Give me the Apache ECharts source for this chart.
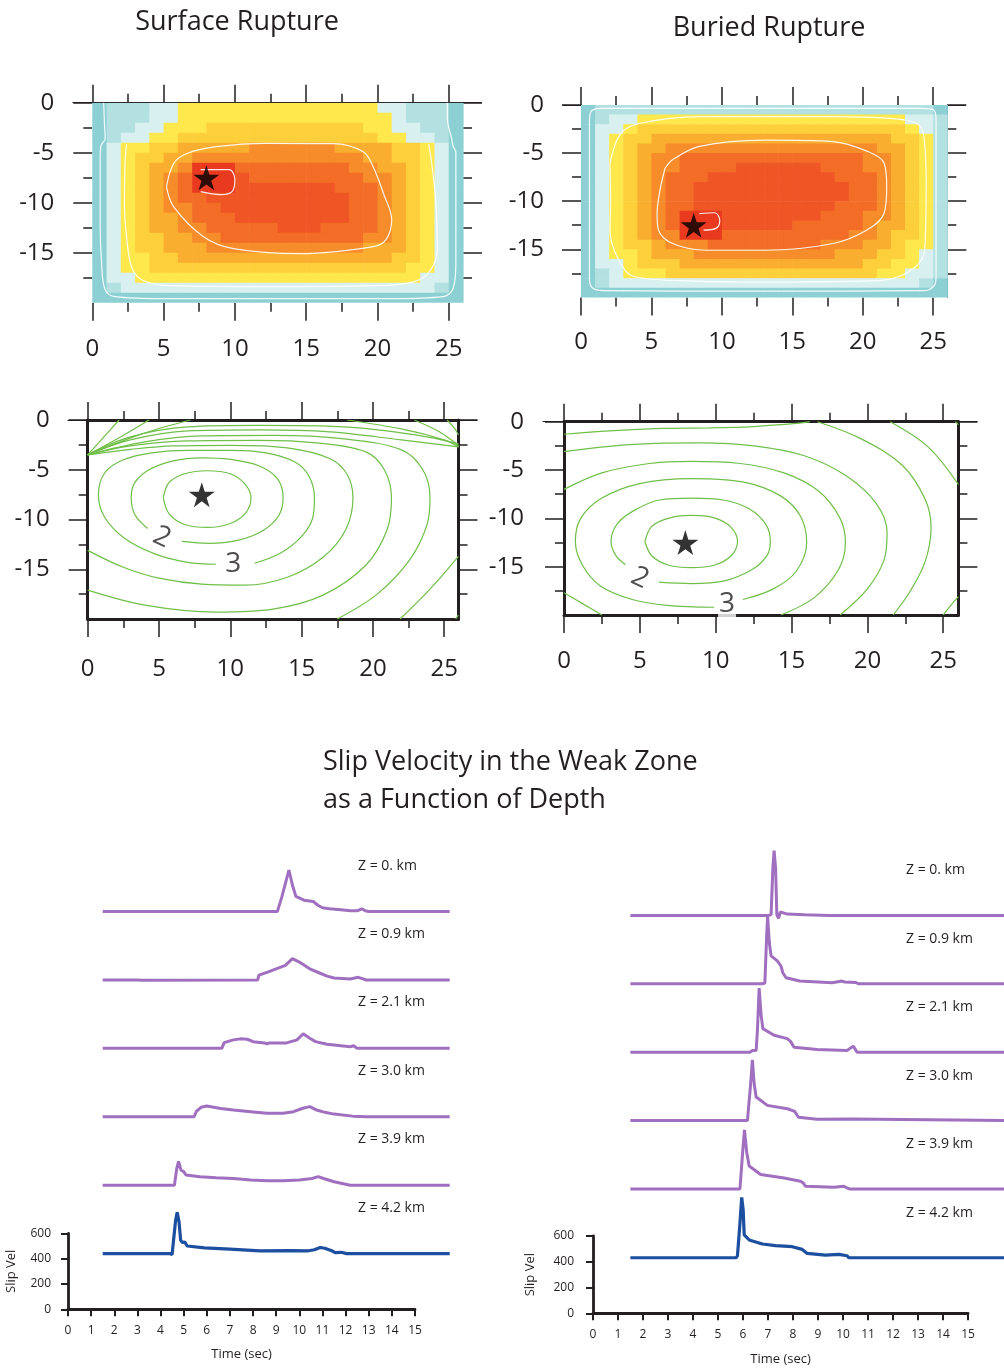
<!DOCTYPE html>
<html>
<head>
<meta charset="utf-8">
<title>Surface vs Buried Rupture</title>
<script src="https://cdn.jsdelivr.net/npm/echarts@6/dist/echarts.min.js"></script>
<style>
  html, body { margin: 0; padding: 0; background: #fff; }
  #main { width: 1004px; height: 1370px; }
</style>
</head>
<body>
<div id="main"></div>
<script>
// ---------------- data ----------------
// final slip on the fault, one char per 1 km cell (level 0..9), rows from 0 km down to -20 km
var slipSurface = [
  '01112233333333333333221110',
  '01112233333333333333321110',
  '01122333444444444443322110',
  '01223344444444444444332210',
  '02334455555666666555544320',
  '02344556666666666665544320',
  '02345569997777777766554320',
  '02345679998777777776654320',
  '02345679998888888777654320',
  '02345677888888888877654320',
  '02345667788888888877654320',
  '02345567778888888877654320',
  '02345566777778887777654320',
  '02344556677777777776654320',
  '02344555666666666665554320',
  '02334455555555555555544320',
  '02334444444444444444443320',
  '02233333333333333333333220',
  '01222222222222222222222210',
  '00000000000000000000000000'
];
var slipBuried = [
  '01111111111111111111111110',
  '01223333333333333333333221',
  '02234444444444444444444321',
  '02344555555555555555554431',
  '02345566666666666666655431',
  '02345667777777777777665431',
  '02345667777888888777665431',
  '02345677788888888877765431',
  '02345677888888888887765431',
  '02345677888888888887765431',
  '02345677888888888877765431',
  '02345679998888888777665431',
  '02345679998888877777655431',
  '02345669997777777776654431',
  '02344566677777777666554331',
  '02334555666666666655544321',
  '02234445555555555555443321',
  '01233344444444444444433221',
  '01222222222222222222222210',
  '00000000000000000000000000'
];

// white slip contours [x km, depth km]
var slipLinesSurface = [
  [[0.8,0],[0.85,-2],[0.9,-3.6],[0.6,-4.3],[0.55,-6],[0.55,-12],[0.65,-16],[0.9,-18.7],[1.6,-19.4],[5,-19.6],[13,-19.6],[21,-19.6],[24.6,-19.4],[25.3,-18.6],[25.5,-16],[25.5,-10],[25.5,-5],[25.3,-4.3],[25.2,-3.6],[24.9,-1.5],[24.9,0]],
  [[2.4,-4.15],[2.3,-6],[2.25,-10],[2.45,-14],[2.8,-16.6],[3.6,-17.8],[5.5,-18.3],[12,-18.4],[20,-18.3],[22.6,-17.9],[23.7,-16.8],[24.2,-14.5],[24.1,-10],[23.8,-6],[23.6,-4.15]],
  [[5.2,-8.4],[5.7,-6.1],[6.6,-5.1],[8.7,-4.4],[12.2,-4.06],[16.9,-4.1],[19.0,-4.9],[19.7,-6.4],[20.4,-9],[21.0,-11.7],[20.6,-13.7],[19.7,-14.4],[14.6,-15.1],[9.9,-14.6],[7.8,-13.4],[5.7,-10.4],[5.2,-8.4]],
  [[7.6,-6.7],[9.6,-6.7],[10.0,-7.7],[9.8,-8.9],[9.0,-9.2],[7.6,-8.9]]
];
var slipLinesBuried = [
  [[0.6,-2],[0.6,-10],[0.6,-18],[0.8,-19.0],[1.6,-19.3],[13,-19.35],[24.3,-19.3],[25.0,-18.9],[25.2,-18],[25.2,-10],[25.2,-1.5],[25.0,-0.5],[24.2,-0.35],[13,-0.35],[1.5,-0.35],[0.7,-0.7],[0.6,-2]],
  [[2.06,-6.1],[2.1,-10],[2.06,-13.1],[2.7,-16.2],[3.7,-17.8],[8,-18.3],[13.2,-18.4],[18,-18.35],[21.5,-18.2],[23.6,-17.0],[24.4,-15],[24.5,-8.1],[24.3,-3.0],[23.8,-1.9],[22,-1.4],[17.9,-1.2],[8.4,-1.2],[4.2,-1.9],[2.8,-3.0],[2.06,-6.1]],
  [[5.96,-6.6],[6.5,-5.7],[8.4,-4.3],[13.1,-3.65],[17.9,-3.8],[20.3,-4.8],[21.5,-6.0],[21.7,-8.5],[21.5,-11.3],[20.3,-13.0],[17.9,-14.4],[13.1,-15.1],[8.9,-15.1],[6.5,-14.4],[5.5,-13.0],[5.4,-11.3],[5.6,-8.9],[5.96,-6.6]],
  [[8.4,-11.3],[9.5,-11.2],[9.85,-12.0],[9.6,-12.8],[8.7,-13.0]]
];

// rupture time contours (green) [x km, depth km]
var timeLinesSurface = [
  [[5.3,-7.8],[5.7,-6.3],[6.8,-5.4],[8.4,-5.1],[10.0,-5.4],[11.0,-6.4],[11.45,-7.8],[11.1,-9.3],[10.0,-10.4],[8.4,-10.8],[6.8,-10.5],[5.7,-9.4],[5.3,-7.8]],
  [[6.6,-12.2],[8.5,-12.4],[10.5,-12.1],[12.3,-11.1],[13.4,-9.6],[13.7,-7.8],[13.3,-5.9],[12.0,-4.6],[10.0,-3.95],[8.0,-3.8],[6.0,-4.1],[4.3,-5.0],[3.3,-6.3],[3.05,-7.8],[3.3,-9.5],[4.2,-10.9]],
  [[11.7,-14.4],[13.5,-13.4],[15.0,-11.7],[15.8,-9.7],[15.9,-7.8],[15.5,-5.6],[14.5,-4.2],[12.5,-3.3],[10,-3.05],[7,-3.05],[4.5,-3.3],[2.5,-4.0],[1.2,-5.3],[0.75,-7.5],[1.2,-9.8],[2.6,-11.9],[4.8,-13.5],[7.0,-14.3],[9.0,-14.5]],
  [[0,-13.1],[2.5,-14.8],[5,-15.9],[8,-16.5],[11,-16.6],[14,-15.8],[16.5,-13.8],[18.1,-11],[18.6,-7.8],[18.2,-5.5],[17,-3.9],[14,-2.8],[10,-2.55],[6,-2.6],[3,-2.95],[0,-3.5]],
  [[0,-17.1],[4,-18.6],[9,-19.3],[13,-19.0],[16.5,-17.6],[19.5,-14.6],[21.0,-11],[21.3,-7.8],[20.8,-5],[19.5,-3.2],[16,-2.3],[12,-2.05],[7,-2.1],[3,-2.6],[0,-3.5]],
  [[17.5,-20],[20.3,-17.5],[22.6,-14],[23.8,-10.5],[24.0,-7.8],[23.5,-5],[22,-3],[18,-1.9],[13,-1.55],[8,-1.6],[4,-2.2],[0,-3.5]],
  [[21.9,-20],[24,-17],[26,-13.7]],
  [[0,-3.5],[3,-2.0],[7,-1.1],[12,-1.0],[17,-1.2],[22,-2.0],[26,-2.7]],
  [[0,-3.5],[3,-1.7],[7,-0.7],[12,-0.55],[18,-0.7],[23,-1.5],[26,-2.4]],
  [[2.2,0],[1.2,-1.6],[0,-3.5]],
  [[4.3,0],[2.3,-1.7],[0,-3.5]],
  [[7.2,0],[3.8,-1.4],[0,-3.5]],
  [[18.2,0],[22,-0.9],[25,-2.0],[26,-2.7]],
  [[22.9,0],[24.8,-1.3],[26,-2.6]],
  [[25.2,0],[25.7,-0.8],[26,-1.5]],
  [[25.8,-20],[26,-19.6]]
];
var timeLinesBuried = [
  [[5.33,-12.4],[5.8,-10.8],[7.0,-9.95],[8.4,-9.7],[9.9,-9.95],[11.0,-10.9],[11.44,-12.4],[11.0,-13.9],[9.9,-14.85],[8.4,-15.1],[6.9,-14.85],[5.8,-13.9],[5.33,-12.4]],
  [[6.25,-16.6],[8.4,-16.75],[10.5,-16.5],[12.4,-15.3],[13.4,-13.8],[13.6,-12.4],[13.3,-10.6],[12.2,-9.0],[10.5,-8.1],[8.4,-7.9],[6.3,-8.1],[4.6,-9.2],[3.5,-10.6],[3.1,-12.4],[3.4,-13.8],[4.05,-14.8]],
  [[11.8,-18.4],[13.8,-17.3],[15.3,-15.5],[16.0,-12.5],[15.6,-9.8],[14.3,-7.7],[12,-6.3],[8.4,-5.9],[5.0,-6.4],[2.5,-7.9],[1.1,-10.0],[0.75,-12.4],[1.2,-14.8],[2.4,-17.0],[4.5,-18.4],[6.8,-19.0],[9.9,-19.2]],
  [[0,-7.0],[2.5,-5.3],[5.5,-4.35],[8.4,-4.1],[11.5,-4.3],[14.5,-5.3],[16.8,-7.2],[18.2,-10],[18.55,-12.5],[18.1,-15.3],[16.5,-18.2],[14.3,-20]],
  [[0,-17.7],[1.3,-18.9],[2.5,-20]],
  [[0,-3.1],[3,-2.55],[6,-2.25],[9,-2.2],[12.5,-2.5],[15.8,-3.5],[18.6,-5.6],[20.6,-8.5],[21.3,-11.5],[21.1,-14.3],[20.0,-17.3],[18.2,-20]],
  [[0,-1.3],[3,-0.95],[6.5,-0.7],[9.5,-0.65],[12.5,-0.5],[15.5,-0.15],[16.2,0]],
  [[16.7,0],[19.5,-1.7],[22.3,-4.5],[23.8,-8],[24.2,-11],[23.8,-14.5],[22.8,-17.6],[21.7,-20]],
  [[21.5,0],[24,-2.6],[26,-6.5]],
  [[26,-18.1],[25.5,-19],[25.0,-20]],
  [[25.8,0],[26,-0.3]]
];
// contour labels [x, depth, text, rotate]
var timeLabelsSurface = [[5.2,-11.8,'2',-25],[10.2,-14.5,'3',0]];
var timeLabelsBuried = [[5.0,-16.2,'2',-25],[10.75,-18.9,'3',0]];
var hypoSurface = [8, -7.5];
var hypoBuried = [8, -12.5];

// axis ticks
var faultMajorX = [0, 5, 10, 15, 20, 25];
var faultMinorX = [2.5, 7.5, 12.5, 17.5, 22.5];
var faultMajorY = [0, -5, -10, -15];
var faultMinorY = [-2.5, -7.5, -12.5, -17.5];

// slip velocity traces [time s, slip vel], surface rupture case
var depthLabels = ['Z = 0. km', 'Z = 0.9 km', 'Z = 2.1 km', 'Z = 3.0 km', 'Z = 3.9 km', 'Z = 4.2 km'];
var velSurface = [
  [[1.5,440],[9.05,440],[9.25,560],[9.55,768],[9.7,650],[9.85,560],[10.2,530],[10.6,520],[10.8,490],[11.0,470],[11.3,462],[11.8,455],[12.2,446],[12.5,446],[12.7,462],[12.85,446],[13.0,440],[16.5,440]],
  [[1.5,440],[3.0,440],[3.2,437],[8.2,440],[8.25,478],[8.6,500],[9.0,528],[9.4,555],[9.7,608],[10.0,581],[10.45,528],[10.9,493],[11.2,470],[11.5,455],[12.2,447],[12.55,461],[12.9,440],[16.5,440]],
  [[1.5,440],[6.65,440],[6.75,485],[7.15,507],[7.45,515],[7.75,512],[8.0,493],[8.5,482],[8.6,476],[8.7,482],[9.45,483],[9.9,507],[10.17,555],[10.45,520],[10.7,493],[11.2,472],[12.2,453],[12.35,461],[12.5,440],[16.5,440]],
  [[1.5,440],[5.45,440],[5.55,482],[5.75,515],[6.0,525],[6.3,515],[6.6,505],[7.15,493],[7.9,480],[8.6,467],[9.3,467],[9.75,480],[10.15,507],[10.45,520],[10.75,493],[11.1,475],[11.5,461],[12.3,445],[12.9,440],[16.5,440]],
  [[1.5,440],[4.6,440],[4.7,570],[4.78,627],[4.88,560],[5.0,547],[5.1,520],[5.7,507],[6.4,499],[7.15,493],[7.9,480],[8.6,475],[9.3,475],[10.0,480],[10.55,493],[10.82,507],[11.05,493],[11.5,467],[12.2,440],[16.5,440]],
  [[1.5,440],[4.4,440],[4.5,432],[4.55,445],[4.65,700],[4.72,765],[4.8,690],[4.87,545],[4.95,528],[5.05,530],[5.15,500],[5.9,485],[7.0,475],[8.3,462],[9.6,464],[10.4,462],[10.65,470],[10.9,488],[11.1,482],[11.4,462],[11.55,448],[11.8,450],[12.05,440],[16.5,440]]
];
// buried rupture case
var velBuried = [
  [[1.5,434],[7.05,434],[7.1,424],[7.15,440],[7.22,800],[7.27,937],[7.33,800],[7.38,440],[7.45,410],[7.52,460],[7.6,455],[7.8,444],[8.5,438],[9.5,434],[16.5,434]],
  [[1.5,434],[6.8,434],[6.85,428],[6.9,440],[6.97,800],[7.01,958],[7.08,750],[7.15,651],[7.4,612],[7.55,570],[7.62,520],[7.75,481],[8.3,455],[9.6,442],[10.0,455],[10.1,448],[10.55,444],[10.65,434],[16.5,434]],
  [[1.5,434],[6.3,434],[6.4,447],[6.55,447],[6.6,600],[6.67,932],[6.75,720],[6.82,617],[7.27,565],[7.8,539],[7.93,518],[8.07,473],[9.0,455],[10.2,447],[10.45,481],[10.6,434],[16.5,434]],
  [[1.5,434],[6.2,434],[6.25,440],[6.32,700],[6.4,906],[6.47,720],[6.55,617],[7.0,552],[7.8,526],[8.1,505],[8.25,460],[9.0,444],[10.4,447],[10.45,434],[16.5,434]],
  [[1.5,434],[5.9,434],[5.95,440],[6.02,750],[6.08,892],[6.17,720],[6.27,612],[6.73,547],[7.67,520],[8.33,494],[8.44,481],[8.53,455],[9.67,447],[10.07,455],[10.3,434],[16.5,434]],
  [[1.5,431],[5.75,431],[5.8,447],[5.9,700],[5.97,900],[6.03,800],[6.07,608],[6.27,569],[6.8,538],[7.33,525],[8.0,517],[8.4,496],[8.47,509],[8.6,465],[9.33,452],[9.87,457],[10.2,447],[10.27,431],[16.5,431]]
];

// ---------------- layout ----------------
var INK = '#231f20';
var FONT = "'Open Sans', sans-serif";
var STAR = 'path://M50,0 L61,35 L98,35 L68,57 L79,91 L50,70 L21,91 L32,57 L2,35 L39,35 Z';

var grids = [], xAxes = [], yAxes = [], series = [], graphics = [];

function hiddenAxis(gi, min, max) {
  return { gridIndex: gi, type: 'value', min: min, max: max, show: false,
           axisLine: { onZero: false }, splitLine: { show: false } };
}

function rule(left, top, width) {
  var gi = grids.length;
  grids.push({ left: left, top: top, width: width, height: 1 });
  xAxes.push({ gridIndex: gi, type: 'value', position: 'top', min: 0, max: 1,
    axisLine: { onZero: false, lineStyle: { color: INK, width: 1.2 } },
    axisTick: { show: false }, axisLabel: { show: false }, splitLine: { show: false } });
  yAxes.push(hiddenAxis(gi, 0, 1));
}

function faultPanel(box, cfg) {
  var gi = grids.length;
  grids.push(box);
  var tick = { color: INK, width: 1.5 };
  function ax(list, pos, min, max, ticks, len, margin, line) {
    list.push({
      gridIndex: gi, type: 'value', position: pos, min: min, max: max,
      axisLine: line ? { show: true, onZero: false, lineStyle: line } : { show: false, onZero: false },
      axisTick: { show: true, customValues: ticks, length: len, lineStyle: tick },
      axisLabel: margin ? { show: true, customValues: ticks, margin: margin, fontSize: 24,
                            fontFamily: FONT, color: INK } : { show: false },
      splitLine: { show: false }
    });
    return list.length - 1;
  }
  var xi = ax(xAxes, 'bottom', 0, 26, faultMajorX, 18, cfg.xMargin, cfg.bottom);
  ax(xAxes, 'bottom', 0, 26, faultMinorX, 9, 0, null);
  ax(xAxes, 'top', 0, 26, faultMajorX, 18, 0, cfg.top);
  ax(xAxes, 'top', 0, 26, faultMinorX, 9, 0, null);
  var yi = ax(yAxes, 'left', -20, 0, faultMajorY, 19, cfg.yMargin, cfg.left);
  ax(yAxes, 'left', -20, 0, faultMinorY, 9, 0, null);
  ax(yAxes, 'right', -20, 0, faultMajorY, 19, 0, cfg.right);
  ax(yAxes, 'right', -20, 0, faultMinorY, 9, 0, null);
  return { x: xi, y: yi };
}

function cells(rows) {
  var out = [];
  rows.forEach(function (row, j) {
    for (var i = 0; i < row.length; i++) out.push([i, -j, +row[i]]);
  });
  return out;
}

function renderCell(params, api) {
  var x = api.value(0), y = api.value(1);
  var p0 = api.coord([x, y]);
  var p1 = api.coord([x + 1, y - 1]);
  return { type: 'rect',
    shape: { x: p0[0], y: p0[1], width: p1[0] - p0[0] + 0.6, height: p1[1] - p0[1] + 0.6 },
    style: { fill: api.visual('color') } };
}

function lines(ax, list, color, width) {
  list.forEach(function (pts) {
    series.push({ type: 'line', xAxisIndex: ax.x, yAxisIndex: ax.y, data: pts,
      smooth: 0.35, showSymbol: false, silent: true, z: 3,
      lineStyle: { color: color, width: width } });
  });
}

function star(ax, p) {
  series.push({ type: 'scatter', xAxisIndex: ax.x, yAxisIndex: ax.y, data: [p],
    symbol: STAR, symbolSize: [26, 25], itemStyle: { color: '#000' }, silent: true, z: 5 });
}

function timeLabels(ax, list) {
  list.forEach(function (l) {
    series.push({ type: 'scatter', xAxisIndex: ax.x, yAxisIndex: ax.y,
      data: [{ value: [l[0], l[1]], name: l[2] }], symbolSize: 0, silent: true, z: 6,
      label: { show: true, position: 'inside', formatter: '{b}', fontSize: 28, fontFamily: FONT,
               color: INK, rotate: l[3], backgroundColor: '#fff', padding: [0, 1] } });
  });
}

// --- slip maps ---
var hmS = faultPanel({ left: 92.3, top: 102.7, width: 370.7, height: 200 },
  { xMargin: 34, yMargin: 38, top: { color: INK, width: 1.2 } });
var hmB = faultPanel({ left: 581, top: 105, width: 366.3, height: 192.4 },
  { xMargin: 33, yMargin: 37, top: { color: INK, width: 1.2 }, right: { color: '#3d4a4c', width: 1 } });
rule(73, 102.7, 408);
rule(563, 105, 402);

series.push({ type: 'custom', xAxisIndex: hmS.x, yAxisIndex: hmS.y, renderItem: renderCell,
  dimensions: ['x', 'y', 'slip'], encode: { x: 0, y: 1 }, data: cells(slipSurface), silent: true, clip: true });
series.push({ type: 'custom', xAxisIndex: hmB.x, yAxisIndex: hmB.y, renderItem: renderCell,
  dimensions: ['x', 'y', 'slip'], encode: { x: 0, y: 1 }, data: cells(slipBuried), silent: true, clip: true });
lines(hmS, slipLinesSurface, 'rgba(255,255,255,0.9)', 1.2);
lines(hmB, slipLinesBuried, 'rgba(255,255,255,0.9)', 1.2);
star(hmS, hypoSurface);
star(hmB, hypoBuried);

// --- rupture time maps ---
var frame = { color: INK, width: 3 };
var ctS = faultPanel({ left: 87.7, top: 420, width: 370.8, height: 199 },
  { xMargin: 38, yMargin: 38, top: frame, bottom: frame, left: frame, right: frame });
var ctB = faultPanel({ left: 564, top: 421.7, width: 394.4, height: 193.3 },
  { xMargin: 34, yMargin: 40, top: frame, bottom: frame, left: frame, right: frame });
rule(68, 420, 409);
rule(543, 421.7, 434);
lines(ctS, timeLinesSurface, '#6fbf48', 1.2);
lines(ctB, timeLinesBuried, '#6fbf48', 1.2);
star(ctS, hypoSurface);
star(ctB, hypoBuried);
timeLabels(ctS, timeLabelsSurface);
timeLabels(ctB, timeLabelsBuried);

// --- slip velocity stacks ---
function traceStack(cfg, traces) {
  var gi = grids.length;
  grids.push({ left: cfg.left, top: cfg.zero - cfg.px600, width: cfg.pxSec * 15, height: cfg.px600 });
  var nameStyle = { fontSize: 13, fontFamily: FONT, color: INK };
  xAxes.push({ gridIndex: gi, type: 'value', min: 0, max: 15, interval: 1,
    axisLine: { onZero: false, lineStyle: { color: INK, width: 2.8 } },
    axisTick: { length: 7, lineStyle: { color: INK, width: 2 } },
    axisLabel: { fontSize: 12, margin: 15, color: INK, fontFamily: FONT },
    splitLine: { show: false },
    name: 'Time (sec)', nameLocation: 'middle', nameGap: cfg.gapX, nameTextStyle: nameStyle });
  yAxes.push({ gridIndex: gi, type: 'value', min: 0, max: 600, interval: 200,
    axisLine: { show: true, onZero: false, lineStyle: { color: INK, width: 2.8 } },
    axisTick: { show: true, length: 7, lineStyle: { color: INK, width: 2 } },
    axisLabel: { fontSize: 12, margin: cfg.marginY, color: INK, fontFamily: FONT },
    splitLine: { show: false },
    name: 'Slip Vel', nameLocation: 'middle', nameRotate: 90, nameGap: cfg.gapY, nameTextStyle: nameStyle });

  traces.forEach(function (tr, n) {
    var k = traces.length - 1 - n;
    var zero = cfg.zero - k * cfg.step;
    var g = grids.length;
    grids.push({ left: cfg.left, top: zero - 2 * cfg.px600, width: cfg.pxSec * 16.5, height: 2 * cfg.px600 });
    xAxes.push(hiddenAxis(g, 0, 16.5));
    yAxes.push(hiddenAxis(g, 0, 1200));
    series.push({ type: 'line', xAxisIndex: xAxes.length - 1, yAxisIndex: yAxes.length - 1,
      data: tr, showSymbol: false, silent: true, z: 3,
      lineStyle: { color: k === 0 ? '#1c4f9f' : '#a06fc0', width: k === 0 ? 3.2 : 3 } });
    var base = tr[0][1] * cfg.px600 / 600;
    graphics.push({ type: 'text', x: cfg.labelX, y: zero - base - cfg.labelUp,
      style: { text: depthLabels[n], fontSize: 14, fontFamily: FONT, fill: INK,
               textAlign: 'left', textVerticalAlign: 'middle', align: 'left', verticalAlign: 'middle' } });
  });
}

traceStack({ left: 68, zero: 1309.3, px600: 76, pxSec: 23.133, step: 68.4,
             gapX: 38, gapY: 50, marginY: 17, labelX: 358, labelUp: 46 }, velSurface);
traceStack({ left: 593, zero: 1313.3, px600: 77.3, pxSec: 25, step: 68.4,
             gapX: 39, gapY: 56, marginY: 19, labelX: 906, labelUp: 45 }, velBuried);

// --- titles ---
function text(str, x, y, size, align) {
  graphics.push({ type: 'text', x: x, y: y,
    style: { text: str, fontSize: size, fontFamily: FONT, fill: INK,
             textAlign: align, textVerticalAlign: 'middle', align: align, verticalAlign: 'middle' } });
}
text('Surface Rupture', 237, 22, 27, 'center');
text('Buried Rupture', 769, 28, 27, 'center');
text('Slip Velocity in the Weak Zone', 323, 762, 27, 'left');
text('as a Function of Depth', 323, 800, 27, 'left');

var chart = echarts.init(document.getElementById('main'), null, { renderer: 'canvas', width: 1004, height: 1370 });
chart.setOption({
  backgroundColor: '#ffffff',
  animation: false,
  grid: grids,
  xAxis: xAxes,
  yAxis: yAxes,
  visualMap: {
    type: 'continuous', show: false, min: 0, max: 9, dimension: 2, seriesIndex: [0, 1],
    inRange: { color: ['#8dd0d4', '#b3e0e1', '#d8f0ef', '#fee84b', '#fdd03b',
                       '#faae2f', '#f68c2a', '#f36d27', '#ef5525', '#e9391f'] }
  },
  graphic: graphics,
  series: series
});
</script>
</body>
</html>
